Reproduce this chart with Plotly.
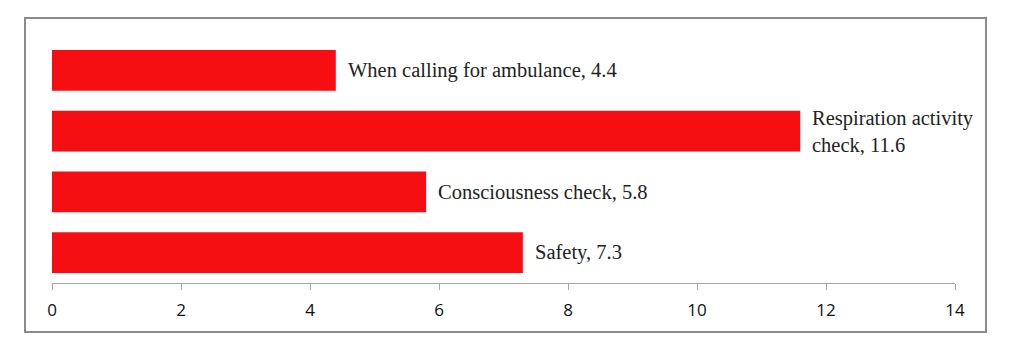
import plotly.graph_objects as go

categories = ["Safety", "Consciousness check", "Respiration activity check", "When calling for ambulance"]
label_texts = ["Safety, 7.3", "Consciousness check, 5.8", "Respiration activity<br>check, 11.6", "When calling for ambulance, 4.4"]
values = [7.3, 5.8, 11.6, 4.4]
tick_vals = [0, 2, 4, 6, 8, 10, 12, 14]

bar_color = "#F50F12"

fig = go.Figure()
fig.add_trace(go.Bar(
    x=values, y=categories, orientation="h",
    marker=dict(color=bar_color, line=dict(width=0)),
    width=0.67,
    hoverinfo="skip",
))

for cat, val, txt in zip(categories, values, label_texts):
    fig.add_annotation(
        x=val, y=cat, xref="x", yref="y", text=txt, showarrow=False,
        xanchor="left", yanchor="middle", align="left", xshift=10,
        font=dict(family="Liberation Serif", size=20.5, color="#222222"),
    )

fig.add_shape(type="rect", xref="paper", yref="paper",
              x0=-0.0299, x1=1.0343, y0=-0.2016, y1=1.0905,
              line=dict(color="#8a8a8a", width=2), fillcolor="rgba(0,0,0,0)", layer="below")

fig.update_layout(
    width=1016, height=349,
    margin=dict(l=52, r=61, t=40, b=66),
    paper_bgcolor="white", plot_bgcolor="white",
    showlegend=False,
    bargap=0.33,
    xaxis=dict(range=[0, 14], tickvals=tick_vals, showgrid=False, zeroline=False,
               showline=True, linecolor="#a6a6a6", linewidth=1,
               ticks="outside", ticklen=6, tickcolor="#a6a6a6",
               ticklabelstandoff=6,
               tickfont=dict(family="Open Sans", size=17, color="#111111")),
    yaxis=dict(categoryorder="array", categoryarray=categories, showticklabels=False,
               showgrid=False, zeroline=False, showline=False, ticks=""),
)

fig.write_html("out.html")
